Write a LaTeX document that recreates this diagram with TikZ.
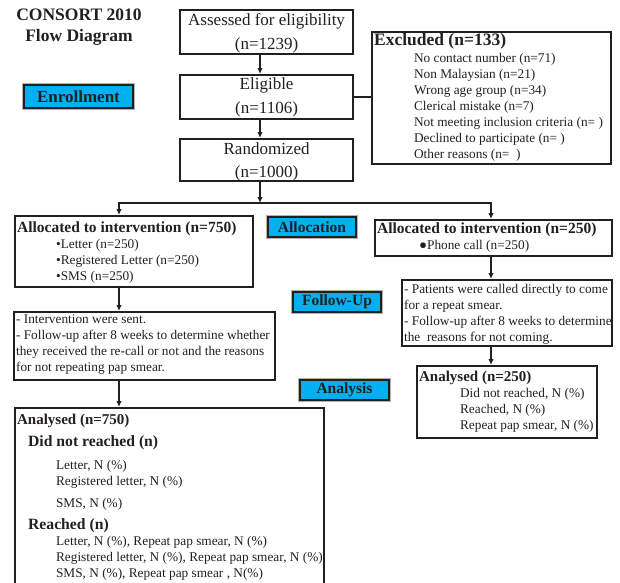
\documentclass[tikz,border=0pt]{standalone}
\usepackage{fontspec}
\setmainfont{Liberation Serif}
\usepackage{xcolor}
\usepackage{tikz}
\usetikzlibrary{positioning, arrows.meta}

\definecolor{labelblue}{RGB}{0,176,240}
\definecolor{inkdark}{RGB}{35,31,32}
\newcommand{\boxtext}[3]{\parbox[c][#2][t]{#1}{\setlength{\parindent}{0pt}\setlength{\parskip}{0pt}\fontsize{13.3}{16}\selectfont #3}}

\begin{document}
\begin{tikzpicture}[x=1pt, y=-1pt, text=inkdark,
   flow/.style={draw=inkdark, line width=2.2pt, inner xsep=2pt, inner ysep=0pt, anchor=north west},
   stage/.style={fill=labelblue, draw=inkdark, line width=1.2pt, preaction={draw=gray!60, line width=3.2pt},
                 inner sep=0pt, minimum width=88pt, minimum height=20pt, font=\fontsize{15.5}{16}\selectfont\bfseries},
   link/.style={draw=inkdark, line width=1.7pt},
   arr/.style={link, -{Latex[length=6pt,width=5.5pt]}}]
  \useasboundingbox (0,0) rectangle (620,582);

  % title and stage labels
  \node[align=center, font=\fontsize{17.5}{21}\selectfont\bfseries] (title) at (79,27.5) {CONSORT 2010\\Flow Diagram};
  \node[stage, minimum width=109pt, minimum height=23pt, font=\fontsize{17}{18}\selectfont\bfseries] (enroll) at (78.5,96.5) {Enrollment};
  \node[stage] (allocation) at (312,227) {Allocation};
  \node[stage] (followup) at (337,302) {Follow-Up};
  \node[stage, minimum width=89pt] (analysis) at (344.5,390) {Analysis};

  % enrollment
  \node[flow] (assess) at (179,9) {\boxtext{169pt}{44pt}{\centering\fontsize{17}{24}\selectfont
      \rule{0pt}{15pt}Assessed for eligibility\par (n=1239)\par}};
  \node[flow] (elig) at (179,74) {\boxtext{169pt}{44pt}{\centering\fontsize{17}{24}\selectfont
      \rule{0pt}{14pt}Eligible\par (n=1106)\par}};
  \node[flow] (rand) at (179,138) {\boxtext{169pt}{42pt}{\centering\fontsize{17}{23}\selectfont
      \rule{0pt}{15pt}Randomized\par (n=1000)\par}};
  \node[flow] (excl) at (371,31) {\boxtext{235pt}{132pt}{%
      \rule{0pt}{13pt}{\fontsize{17.5}{18}\selectfont\bfseries Excluded (n=133)}\par\vspace{1pt}
      \hspace*{40pt}No contact number (n=71)\par
      \hspace*{40pt}Non Malaysian (n=21)\par
      \hspace*{40pt}Wrong age group (n=34)\par
      \hspace*{40pt}Clerical mistake (n=7)\par
      \hspace*{40pt}\mbox{Not meeting inclusion criteria (n= )}\par
      \hspace*{40pt}Declined to participate (n= )\par
      \hspace*{40pt}Other reasons (n=\ \ )\par}};

  % allocation
  \node[flow] (allocL) at (14,215) {\boxtext{234pt}{71pt}{%
      \rule{0pt}{16pt}{\fontsize{15.5}{16}\selectfont\bfseries Allocated to intervention (n=750)}\par
      \hspace*{39pt}\textbullet Letter (n=250)\par
      \hspace*{39pt}\textbullet Registered Letter (n=250)\par
      \hspace*{39pt}\textbullet SMS (n=250)\par}};
  \node[flow] (allocR) at (374,219) {\boxtext{233pt}{36pt}{%
      \rule{0pt}{13pt}\mbox{\fontsize{15.5}{16}\selectfont\bfseries Allocated to intervention (n=250)}\par
      \hspace*{42pt}●Phone call (n=250)\par}};

  % follow-up
  \node[flow] (fuL) at (13,311) {\boxtext{257pt}{68pt}{%
      \rule{0pt}{11pt}- Intervention were sent.\par
      \mbox{- Follow-up after 8 weeks to determine whether}\par
      \mbox{they received the re-call or not and the reasons}\par
      for not repeating pap smear.\par}};
  \node[flow] (fuR) at (401,279) {\boxtext{206pt}{66pt}{%
      \rule{0pt}{13pt}\mbox{- Patients were called directly to come}\par
      for a repeat smear.\par
      \mbox{- Follow-up after 8 weeks to determine}\par
      the\ \ reasons for not coming.\par}};

  % analysis
  \node[flow] (anL) at (14,407) {\boxtext{305pt}{200pt}{%
      \rule{0pt}{16pt}{\fontsize{15}{16}\selectfont\bfseries Analysed (n=750)}\par\vspace{6pt}
      \hspace*{11pt}{\fontsize{15.7}{16}\selectfont\bfseries Did not reached (n)}\par\vspace{7pt}
      \hspace*{39pt}Letter, N (\%)\par
      \hspace*{39pt}Registered letter, N (\%)\par\vspace{6pt}
      \hspace*{39pt}SMS, N (\%)\par\vspace{6pt}
      \hspace*{11pt}{\fontsize{15.7}{16}\selectfont\bfseries Reached (n)}\par
      \hspace*{39pt}Letter, N (\%), Repeat pap smear, N (\%)\par
      \hspace*{39pt}\mbox{Registered letter, N (\%), Repeat pap smear, N (\%)}\par
      \hspace*{39pt}SMS, N (\%), Repeat pap smear , N(\%)\par}};
  \node[flow] (anR) at (416,365) {\boxtext{176pt}{72pt}{%
      \rule{0pt}{15pt}{\fontsize{15}{16}\selectfont\bfseries Analysed (n=250)}\par
      \hspace*{41pt}Did not reached, N (\%)\par
      \hspace*{41pt}Reached, N (\%)\par
      \hspace*{41pt}\mbox{Repeat pap smear, N (\%)}\par}};

  % connectors
  \coordinate (spine) at (260,0);
  \coordinate (leftcol) at (119,0);
  \coordinate (rightcol) at (491,0);
  \coordinate (split) at (260,203);
  \draw[arr] (assess.south -| spine) -- (elig.north -| spine);
  \draw[arr] (elig.south -| spine) -- (rand.north -| spine);
  \draw[link] (elig.east) -- (elig.east -| excl.west);
  \draw[arr] (rand.south -| spine) -- (split);
  \draw[arr] (split) -| (allocL.north -| leftcol);
  \draw[arr] (split) -| (allocR.north -| rightcol);
  \draw[arr] (allocL.south -| leftcol) -- (fuL.north -| leftcol);
  \draw[arr] (fuL.south -| leftcol) -- (anL.north -| leftcol);
  \draw[arr] (allocR.south -| rightcol) -- (fuR.north -| rightcol);
  \draw[arr] (fuR.south -| rightcol) -- (anR.north -| rightcol);
\end{tikzpicture}
\end{document}
